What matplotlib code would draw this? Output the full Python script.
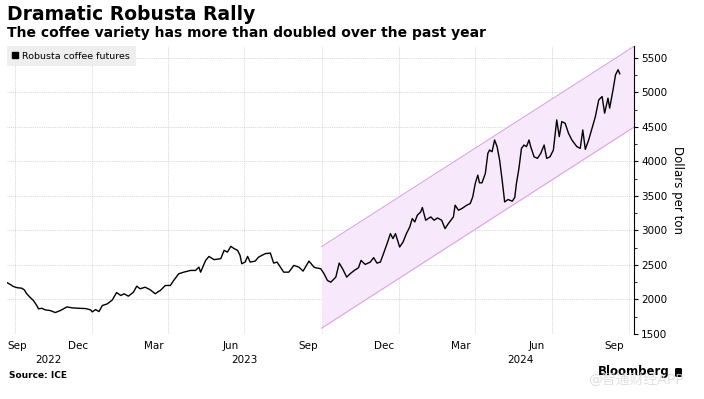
import pandas as pd
import matplotlib.pyplot as plt
import matplotlib.dates as mdates
import matplotlib.transforms as mtransforms
from matplotlib.lines import Line2D
from matplotlib.patches import FancyBboxPatch

# ---------------------------------------------------------
# DATA
# ---------------------------------------------------------
START = pd.Timestamp("2022-09-22")

# days since START
price_days = [
    0, 4, 7, 12, 17, 20, 23, 28, 31, 35, 37, 41, 45, 51, 57, 63, 71, 77, 85, 93,
    99, 101, 105, 109, 113, 119, 125, 130, 135, 139, 144, 150, 154, 158, 164, 170, 176, 180,
    182, 188, 194, 198, 204, 210, 218, 224, 228, 230, 236, 240, 246, 254, 258, 262,
    266, 270, 274, 277, 279, 283, 286, 289, 295, 299, 303, 307, 313, 317, 321, 329,
    335, 341, 347, 352, 359, 365,
    367, 373, 377, 381, 385, 391, 395, 399, 404, 408, 413, 418, 421, 426, 432, 436,
    440, 444, 448, 452, 456, 459, 462, 467, 471, 475, 479, 482, 485, 488, 492, 494, 498,
    504, 508, 512, 517, 521, 525, 531, 533, 537, 541, 547, 551, 554, 557, 560, 562,
    565, 569, 572, 574, 577, 580, 583, 586, 589, 592, 596, 601, 604, 606, 609, 612,
    615, 618, 621,
    623, 627, 631, 635, 639, 642, 646, 650, 654, 657, 660, 664, 668, 672, 678, 682,
    685, 688, 692, 696, 700, 704, 708, 711, 715, 717, 721, 724, 727, 729,
]

# Robusta coffee futures, dollars per ton
price_values = [
    2241, 2212, 2188, 2169, 2163, 2140, 2082, 2018, 1984, 1912, 1864, 1872, 1849, 1839, 1810, 1839, 1892, 1878, 1872, 1868,
    1849, 1820, 1853, 1824, 1912, 1936, 1994, 2100, 2057, 2082, 2047, 2105, 2192, 2154, 2177, 2140, 2082, 2115,
    2129, 2202, 2202, 2275, 2372, 2395, 2420, 2420, 2468, 2395, 2565, 2623, 2576, 2590, 2711, 2686,
    2769, 2735, 2711, 2638, 2517, 2541, 2623, 2541, 2555, 2613, 2638, 2663, 2672, 2526, 2541, 2395,
    2395, 2493, 2468, 2410, 2555, 2468,
    2459, 2445, 2372, 2275, 2250, 2323, 2526, 2445, 2323, 2372, 2420, 2459, 2565, 2507, 2541, 2605,
    2526, 2541, 2672, 2808, 2953, 2881, 2953, 2759, 2831, 2953, 3049, 3171, 3122, 3219, 3267, 3331, 3147,
    3195, 3147, 3180, 3147, 3026, 3099, 3195, 3365, 3292, 3316, 3365, 3389, 3485, 3680, 3800, 3689,
    3689, 3825, 4116, 4164, 4139, 4309, 4212, 4018, 3728, 3412, 3447, 3423, 3476, 3680, 3898, 4188,
    4236, 4212, 4309,
    4212, 4066, 4043, 4116, 4236, 4043, 4066, 4164, 4600, 4357, 4575, 4551, 4406, 4309, 4212, 4188,
    4454, 4174, 4309, 4479, 4648, 4890, 4938, 4697, 4915, 4770, 5035, 5253, 5326, 5268,
]

# trend channel drawn over the past year
channel_dates = ["2023-10-01", "2024-10-07"]
channel_upper = [2765, 5664]
channel_lower = [1583, 4496]

grid_dates = ["2022-10-01", "2023-01-01", "2023-04-01", "2023-07-01", "2023-10-01",
              "2024-01-01", "2024-04-01", "2024-07-01", "2024-10-01"]
month_label_dates = ["2022-12-15", "2023-03-15", "2023-06-15", "2023-09-15",
                     "2023-12-15", "2024-03-15", "2024-06-13", "2024-09-13"]
month_labels = ["Dec", "Mar", "Jun", "Sep", "Dec", "Mar", "Jun", "Sep"]
year_label_dates = ["2022-11-10", "2023-07-01", "2024-05-25"]
year_labels = ["2022", "2023", "2024"]

y_ticks = [1500, 2000, 2500, 3000, 3500, 4000, 4500, 5000, 5500]

# ---------------------------------------------------------
# PLOT
# ---------------------------------------------------------
plt.rcParams["font.family"] = ["DejaVu Sans", "Noto Sans CJK SC"]

fig = plt.figure(figsize=(7.04, 3.99), dpi=100)
ax = fig.add_axes([0.0099, 0.163, 0.8907, 0.7217])

dates = START + pd.to_timedelta(price_days, unit="D")
ch_x = pd.to_datetime(channel_dates)

ax.fill_between(ch_x, channel_lower, channel_upper, color="#f8e8fc", zorder=1, linewidth=0)
ax.plot(ch_x, channel_upper, color="#d9a6e2", lw=0.8, zorder=2)
ax.plot(ch_x, channel_lower, color="#d9a6e2", lw=0.8, zorder=2)

ax.plot(dates, price_values, color="black", lw=1.0, zorder=3)

ax.set_xlim(START - pd.Timedelta(days=0.5), pd.Timestamp("2024-10-07"))
ax.set_ylim(1500, 5670)

# y axis on the right
ax.yaxis.tick_right()
ax.yaxis.set_label_position("right")
ax.set_yticks(y_ticks)
ax.set_yticks(range(1750, 5670, 500), minor=True)
ax.tick_params(axis="y", which="major", length=3, width=0.8, pad=2, labelsize=7.5)
ax.tick_params(axis="y", which="minor", length=2, width=0.6)
ax.set_ylabel("Dollars per ton", rotation=270, fontsize=8.5, labelpad=12)

# x axis: gridlines at quarter starts, month names mid-month
ax.set_xticks(pd.to_datetime(grid_dates))
ax.set_xticks(pd.to_datetime(month_label_dates), minor=True)
ax.set_xticklabels([""] * len(grid_dates))
ax.set_xticklabels(month_labels, minor=True)
ax.tick_params(axis="x", which="both", length=0, pad=5, labelsize=7.5)

trans = mtransforms.blended_transform_factory(ax.transData, ax.transAxes)
ax.text(0, -0.024, "Sep", transform=ax.transAxes, ha="left", va="top", fontsize=7.5)
for d, lab in zip(pd.to_datetime(year_label_dates), year_labels):
    ax.text(mdates.date2num(d), -0.072, lab, transform=trans, ha="center", va="top", fontsize=7.5)

ax.grid(True, which="major", color="#cccccc", linestyle=(0, (1, 1.2)), linewidth=0.6)
ax.set_axisbelow(True)

for side in ["top", "left", "bottom"]:
    ax.spines[side].set_visible(False)
ax.spines["right"].set_linewidth(0.8)

handle = Line2D([], [], color="black", marker="s", linestyle="none", markersize=4.5)
leg = ax.legend([handle], ["Robusta coffee futures"], loc="upper left",
                bbox_to_anchor=(0, 1), borderaxespad=0, fontsize=6.8,
                handlelength=0.6, handletextpad=0.4, borderpad=0.6,
                fancybox=False, frameon=True)
leg.get_frame().set_facecolor("#eeeeee")
leg.get_frame().set_edgecolor("none")
leg.get_frame().set_alpha(1)

# titles and footer
fig.text(0.01, 1 - 14 / 399, "Dramatic Robusta Rally", fontsize=13.5, fontweight="bold", va="center")
fig.text(0.01, 1 - 33 / 399, "The coffee variety has more than doubled over the past year",
         fontsize=10, fontweight="bold", va="center")
fig.text(0.013, 1 - 375 / 399, "Source: ICE", fontsize=6.5, fontweight="bold", va="center")
fig.text(0.849, 1 - 372 / 399, "Bloomberg", fontsize=8.5, fontweight="bold", va="center")
fig.patches.append(FancyBboxPatch((675 / 704, 1 - 377 / 399), 7 / 704, 9 / 399,
                                  boxstyle="round,pad=0,rounding_size=0.003",
                                  transform=fig.transFigure, facecolor="black",
                                  edgecolor="none", figure=fig))
fig.text(0.835, 1 - 380 / 399, "@智通财经APP", fontsize=10, color="#d8d8d8", va="center", alpha=0.8)

fig.savefig("out.png", dpi=100)
